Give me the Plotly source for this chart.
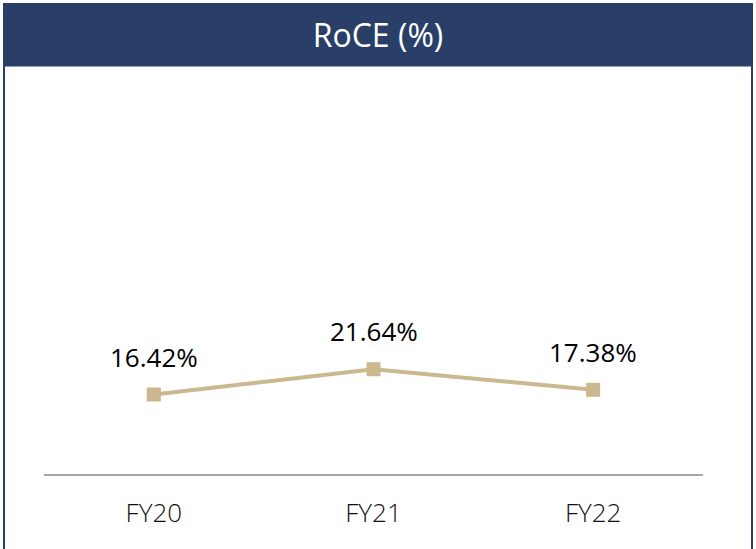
import plotly.graph_objects as go

categories = ["FY20", "FY21", "FY22"]
roce_values = [16.42, 21.64, 17.38]
value_labels = ["16.42%", "21.64%", "17.38%"]
title_text = "RoCE (%)"

W, H = 756, 549
L, R, T, B = 44, 53, 77, 75
pw, ph = W - L - R, H - T - B

def px_x(x):
    return (x - L) / pw

def px_y(y):
    return (H - B - y) / ph

navy = "#293F67"
tan = "#CCB88F"

fig = go.Figure()
fig.add_trace(go.Scatter(
    x=categories, y=roce_values, mode="lines+markers",
    line=dict(color=tan, width=4),
    marker=dict(symbol="square", size=14, color=tan),
    hoverinfo="skip", showlegend=False,
))

for c, v, t in zip(categories, roce_values, value_labels):
    fig.add_annotation(x=c, y=v, text=t, showarrow=False, yshift=38,
                       font=dict(family="Open Sans", size=26, color="#000000"))

fig.add_shape(type="rect", xref="paper", yref="paper",
              x0=px_x(4), x1=px_x(752), y0=px_y(600), y1=px_y(4),
              line=dict(color=navy, width=2), fillcolor="rgba(0,0,0,0)", layer="below")
fig.add_shape(type="rect", xref="paper", yref="paper",
              x0=px_x(4), x1=px_x(752), y0=px_y(66), y1=px_y(4),
              line=dict(color=navy, width=1), fillcolor=navy, layer="below")

fig.update_layout(
    width=W, height=H,
    margin=dict(l=L, r=R, t=T, b=B),
    paper_bgcolor="white", plot_bgcolor="white",
    title=dict(text=title_text, xref="container", yref="container",
               x=0.5, y=1 - 36 / H, xanchor="center", yanchor="middle",
               font=dict(family="Open Sans", size=32, color="white")),
    xaxis=dict(showgrid=False, zeroline=False, showline=True,
               linecolor="#A6A6A6", linewidth=2,
               ticks="", ticklabelstandoff=15,
               tickfont=dict(family="Open Sans", size=26, color="#111111", weight=300),
               range=[-0.5, 2.5]),
    yaxis=dict(visible=False, range=[0, 82]),
)

fig.write_html("out.html", config={"displayModeBar": False},
               post_script="document.body.style.margin='0';")
